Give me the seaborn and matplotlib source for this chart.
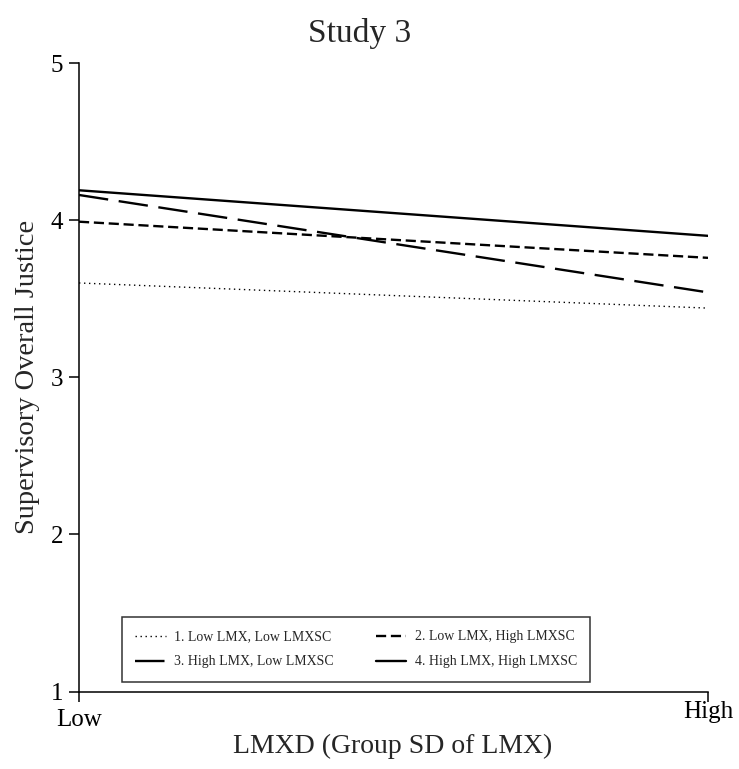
import pandas as pd
import matplotlib
matplotlib.use("Agg")
import matplotlib.pyplot as plt
import matplotlib.transforms as mtransforms
import seaborn as sns

# values
x_labels = ["Low", "High"]
x_pos = [0, 1]
groups = ["1. Low LMX, Low LMXSC", "2. Low LMX, High LMXSC",
          "3. High LMX, Low LMXSC", "4. High LMX, High LMXSC"]
g1 = [3.60, 3.44]
g2 = [3.99, 3.76]
g3 = [4.16, 3.54]
g4 = [4.19, 3.90]

rows = []
for name, vals in zip(groups, [g1, g2, g3, g4]):
    for xp, v in zip(x_pos, vals):
        rows.append({"x": xp, "y": v, "group": name})
df = pd.DataFrame(rows)

sns.set_style("ticks")
plt.rcParams['font.family'] = ['Liberation Serif', 'DejaVu Serif']

W, H = 739, 769
fig = plt.figure(figsize=(W / 100, H / 100), dpi=100)
ax = fig.add_axes([79 / W, 1 - 691.5 / H, (708 - 79) / W, (691.5 - 63) / H])

dash_map = {
    groups[0]: (1, 2.6),
    groups[1]: (4.3, 2),
    groups[2]: (12.5, 4.5),
    groups[3]: "",
}
width_map = {groups[0]: 1.0, groups[1]: 1.7, groups[2]: 1.7, groups[3]: 1.7}

sns.lineplot(data=df, x="x", y="y", hue="group", style="group",
             palette=["black"] * 4, dashes=dash_map, ax=ax, legend=False)
for line, g in zip(ax.lines, groups):
    line.set_linewidth(width_map[g])

ax.set_xlim(0, 1)
ax.set_ylim(1, 5)
ax.set_xticks(x_pos)
ax.set_xticklabels(x_labels)
ax.set_yticks([1, 2, 3, 4, 5])
ax.tick_params(axis="both", direction="out", length=7.5, width=1.1,
               labelsize=18, colors="black")
ax.tick_params(axis="y", pad=4)
ax.tick_params(axis="x", pad=5)
for s in ["top", "right"]:
    ax.spines[s].set_visible(False)
for s in ["left", "bottom"]:
    ax.spines[s].set_linewidth(1.1)
    ax.spines[s].set_color("black")

# "High" sits a little higher than "Low" in the reference
hi = ax.get_xticklabels()[1]
hi.set_transform(hi.get_transform() +
                 mtransforms.ScaledTranslation(0, 8 / 100, fig.dpi_scale_trans))

ax.set_xlabel("LMXD (Group SD of LMX)", fontsize=20, va="top")
ax.xaxis.set_label_coords((393 - 79) / 629, -(734 - 691.5) / 628.5)
ax.set_ylabel("Supervisory Overall Justice", fontsize=20.5)
ax.yaxis.set_label_coords(-(79 - 40) / 629, 0.5)
fig.text(360 / W, 1 - 42 / H, "Study 3", fontsize=24, ha="center", va="baseline")

# legend, column-first order so rows read 1-2 / 3-4
order = [0, 2, 1, 3]
handles = [ax.lines[i] for i in order]
labels = [groups[i] for i in order]
leg = fig.legend(handles, labels, ncol=2, loc="upper left",
                 bbox_to_anchor=(122 / W, 1 - 617 / H),
                 fontsize=10, frameon=True, fancybox=False,
                 edgecolor="black", handlelength=2.2, handletextpad=0.6,
                 columnspacing=3.0, borderaxespad=0, borderpad=0.97,
                 labelspacing=0.86)
leg.get_frame().set_linewidth(1.1)

fig.savefig("out.png", dpi=100)
